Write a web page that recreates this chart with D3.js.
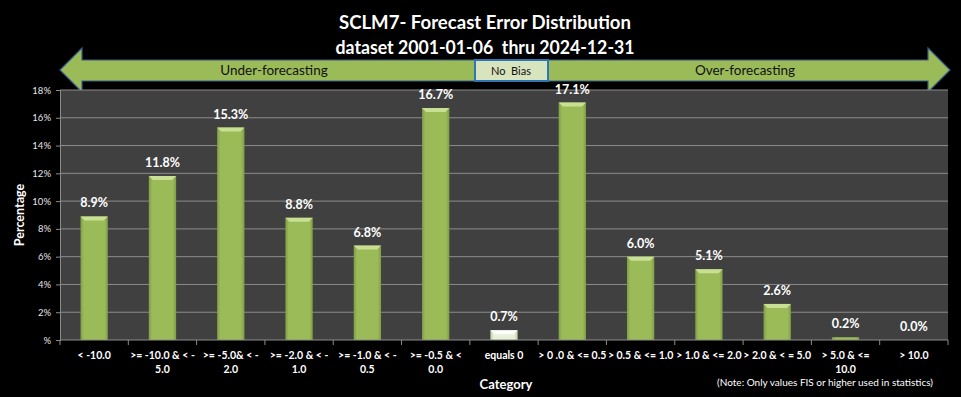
<!DOCTYPE html>
<html>
<head>
<meta charset="utf-8">
<script src="https://cdn.jsdelivr.net/npm/d3@7"></script>
<style>
  body { margin: 0; background: #000; }
  svg { display: block; font-family: Lato, 'Open Sans', sans-serif; }
</style>
</head>
<body>
<div id="wrapper"></div>
<script>
/* DATA */
const categories = [
  ['< -10.0'],
  ['>= -10.0 & < -', '5.0'],
  ['>= -5.0& < -', '2.0'],
  ['>= -2.0 & < -', '1.0'],
  ['>= -1.0 & < -', '0.5'],
  ['>= -0.5 & <', '0.0'],
  ['equals 0'],
  ['> 0 .0 & <= 0.5'],
  ['> 0.5 & <= 1.0'],
  ['> 1.0 & <= 2.0'],
  ['> 2.0 & < = 5.0'],
  ['> 5.0 & <=', '10.0'],
  ['> 10.0'],
];
const percentages = [8.9, 11.8, 15.3, 8.8, 6.8, 16.7, 0.7, 17.1, 6.0, 5.1, 2.6, 0.2, 0.0];
const yTicks = [0, 2, 4, 6, 8, 10, 12, 14, 16, 18];
const titleLines = ['SCLM7- Forecast Error Distribution', 'dataset 2001-01-06  thru 2024-12-31'];
const biasLabels = ['Under-forecasting', 'No  Bias', 'Over-forecasting'];

const dataset = categories.map((c, i) => ({ key: c.join(' '), lines: c, value: percentages[i], i }));

/* CHART DIMENSIONS */
const dimensions = {
  width: 961,
  height: 397,
  margin: { top: 90, right: 13, bottom: 57, left: 60 },
};
dimensions.boundedWidth = dimensions.width - dimensions.margin.left - dimensions.margin.right;
dimensions.boundedHeight = dimensions.height - dimensions.margin.top - dimensions.margin.bottom;

/* SCALES */
const xScale = d3.scaleBand()
  .domain(dataset.map(d => d.key))
  .range([0, dimensions.boundedWidth])
  .paddingInner(0.6)
  .paddingOuter(0.3);

const yScale = d3.scaleLinear()
  .domain([0, 18])
  .range([dimensions.boundedHeight, 0]);

/* DRAW */
const wrapper = d3.select('#wrapper')
  .append('svg')
  .attr('width', dimensions.width)
  .attr('height', dimensions.height);

const defs = wrapper.append('defs');
function barGradient(id, edge, mid) {
  const g = defs.append('linearGradient').attr('id', id).attr('x1', 0).attr('x2', 1).attr('y1', 0).attr('y2', 0);
  g.append('stop').attr('offset', '0%').attr('stop-color', edge);
  g.append('stop').attr('offset', '12%').attr('stop-color', mid);
  g.append('stop').attr('offset', '88%').attr('stop-color', mid);
  g.append('stop').attr('offset', '100%').attr('stop-color', edge);
}
barGradient('barGreen', '#7f9c45', '#9bbb59');
barGradient('barLight', '#b9c9a0', '#e8f0d8');

wrapper.append('rect')
  .attr('width', dimensions.width)
  .attr('height', dimensions.height)
  .attr('fill', '#000');

// titles
wrapper.append('g')
  .selectAll('text')
  .data(titleLines)
  .join('text')
  .attr('x', 485)
  .attr('y', (d, i) => 29 + i * 25)
  .attr('text-anchor', 'middle')
  .attr('fill', '#fff')
  .attr('font-size', 19)
  .attr('font-weight', 'bold')
  .attr('xml:space', 'preserve')
  .attr('textLength', (d, i) => (i === 0 ? 292 : 299))
  .attr('lengthAdjust', 'spacingAndGlyphs')
  .text(d => d);

// bias arrows
const arrows = wrapper.append('g');
arrows.append('path')
  .attr('d', 'M60,70 L82,48 L82,60 L475,60 L475,81 L82,81 L82,92 Z')
  .attr('fill', '#9bbb59')
  .attr('stroke', '#385d8a')
  .attr('stroke-width', 1.2);
arrows.append('path')
  .attr('d', 'M548,60 L928,60 L928,48 L950,70 L928,92 L928,81 L548,81 Z')
  .attr('fill', '#9bbb59')
  .attr('stroke', '#385d8a')
  .attr('stroke-width', 1.2);
arrows.append('rect')
  .attr('x', 475).attr('y', 60)
  .attr('width', 73).attr('height', 21)
  .attr('fill', '#d7e4bd')
  .attr('stroke', '#2e75b6')
  .attr('stroke-width', 2);
arrows.selectAll('text')
  .data(biasLabels)
  .join('text')
  .attr('x', (d, i) => [274, 511, 745][i])
  .attr('y', 75)
  .attr('text-anchor', 'middle')
  .attr('fill', '#111')
  .attr('font-size', (d, i) => (i === 1 ? 11 : 13.5))
  .attr('xml:space', 'preserve')
  .text(d => d);

const bounds = wrapper.append('g')
  .attr('transform', `translate(${dimensions.margin.left},${dimensions.margin.top})`);

bounds.append('rect')
  .attr('width', dimensions.boundedWidth)
  .attr('height', dimensions.boundedHeight)
  .attr('fill', '#404040');

// gridlines
bounds.append('g')
  .selectAll('line')
  .data(yTicks.filter(t => t > 0))
  .join('line')
  .attr('x1', 0)
  .attr('x2', dimensions.boundedWidth)
  .attr('y1', d => yScale(d))
  .attr('y2', d => yScale(d))
  .attr('stroke', '#8c8c8c')
  .attr('stroke-width', 1);

// bars
const bars = bounds.append('g')
  .selectAll('g')
  .data(dataset)
  .join('g');

bars.append('rect')
  .attr('x', d => xScale(d.key))
  .attr('y', d => yScale(d.value))
  .attr('width', xScale.bandwidth())
  .attr('height', d => dimensions.boundedHeight - yScale(d.value))
  .attr('fill', d => (d.i === 6 ? 'url(#barLight)' : 'url(#barGreen)'));

// top bevel
bars.filter(d => d.value >= 0.5)
  .append('path')
  .attr('d', d => {
    const x0 = xScale(d.key), x1 = x0 + xScale.bandwidth(), y0 = yScale(d.value);
    return `M${x0},${y0} L${x1},${y0} L${x1 - 4},${y0 + 4} L${x0 + 4},${y0 + 4} Z`;
  })
  .attr('fill', d => (d.i === 6 ? '#ffffff' : '#c8df94'));

// data labels
bounds.append('g')
  .selectAll('text')
  .data(dataset)
  .join('text')
  .attr('x', d => xScale(d.key) + xScale.bandwidth() / 2)
  .attr('y', d => yScale(d.value) - 9)
  .attr('text-anchor', 'middle')
  .attr('fill', '#fff')
  .attr('font-size', 12.5)
  .attr('font-weight', 'bold')
  .text(d => `${d.value.toFixed(1)}%`);

/* PERIPHERALS */
const yAxis = bounds.append('g')
  .call(d3.axisLeft(yScale).tickValues(yTicks).tickSize(4).tickFormat(d => (d === 0 ? '%' : `${d}%`)));
yAxis.select('.domain').attr('stroke', '#8c8c8c');
yAxis.selectAll('.tick line').attr('stroke', '#8c8c8c');
yAxis.selectAll('.tick text')
  .attr('fill', '#e6e6e6')
  .attr('font-size', 9.5)
  .attr('font-family', 'Lato, sans-serif')
  .attr('x', -9);

const xTicks = [0, ...dataset.map(d => xScale(d.key) + xScale.bandwidth() + xScale.step() * 0.3)];
const xAxis = bounds.append('g')
  .attr('transform', `translate(0,${dimensions.boundedHeight})`);
xAxis.append('line')
  .attr('x1', 0).attr('x2', dimensions.boundedWidth)
  .attr('stroke', '#8c8c8c');
xAxis.selectAll('.xtick')
  .data(xTicks)
  .join('line')
  .attr('class', 'xtick')
  .attr('x1', d => d).attr('x2', d => d)
  .attr('y1', 0).attr('y2', 5)
  .attr('stroke', '#8c8c8c');

const xLabels = xAxis.selectAll('.xlabel')
  .data(dataset)
  .join('text')
  .attr('class', 'xlabel')
  .attr('text-anchor', 'middle')
  .attr('fill', '#fff')
  .attr('font-size', 10.5)
  .attr('font-weight', 'bold');
xLabels.selectAll('tspan')
  .data(d => d.lines.map(l => ({ l, x: xScale(d.key) + xScale.bandwidth() / 2 })))
  .join('tspan')
  .attr('x', d => d.x)
  .attr('y', (d, i) => 19 + i * 14)
  .attr('xml:space', 'preserve')
  .text(d => d.l);

wrapper.append('text')
  .attr('x', 506)
  .attr('y', 389)
  .attr('text-anchor', 'middle')
  .attr('fill', '#fff')
  .attr('font-size', 13)
  .attr('font-weight', 'bold')
  .text('Category');

wrapper.append('text')
  .attr('x', 825)
  .attr('y', 386)
  .attr('text-anchor', 'middle')
  .attr('fill', '#fff')
  .attr('font-size', 10)
  .text('(Note: Only values FIS or higher used in statistics)');

wrapper.append('text')
  .attr('transform', `translate(24,${dimensions.margin.top + dimensions.boundedHeight / 2}) rotate(-90)`)
  .attr('text-anchor', 'middle')
  .attr('fill', '#fff')
  .attr('font-size', 12.5)
  .attr('font-weight', 'bold')
  .text('Percentage');
</script>
</body>
</html>
